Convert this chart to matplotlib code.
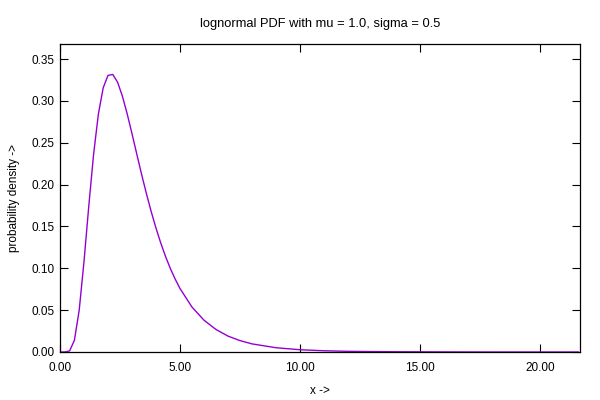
import matplotlib.pyplot as plt
from matplotlib.ticker import FormatStrFormatter, MultipleLocator

# values
x_vals = [0.0, 0.2, 0.4, 0.6, 0.8, 1.0, 1.2, 1.4, 1.6, 1.8, 2.0, 2.2, 2.4, 2.6,
          2.8, 3.0, 3.2, 3.4, 3.6, 3.8, 4.0, 4.2, 4.4, 4.6, 4.8, 5.0, 5.5, 6.0,
          6.5, 7.0, 7.5, 8.0, 9.0, 10.0, 11.0, 12.0, 13.0, 14.0, 16.0, 18.0,
          20.0, 21.6]
density = [0.0, 0.0, 0.0013, 0.0139, 0.0500, 0.1080, 0.1746, 0.2363, 0.2844,
           0.3156, 0.3305, 0.3316, 0.3223, 0.3057, 0.2845, 0.2609, 0.2364,
           0.2123, 0.1893, 0.1678, 0.1480, 0.1301, 0.1140, 0.0997, 0.0871,
           0.0759, 0.0537, 0.0380, 0.0269, 0.0190, 0.0136, 0.0097, 0.0051,
           0.0027, 0.0015, 0.0008, 0.0005, 0.0003, 0.0001, 0.0, 0.0, 0.0]

plt.rcParams['font.family'] = ['Liberation Sans', 'DejaVu Sans']
plt.rcParams['font.size'] = 8.5

fig = plt.figure(figsize=(6, 4), dpi=100)
ax = fig.add_axes([0.1, 0.12, 0.8667, 0.77])

ax.plot(x_vals, density, color='#9400d3', linewidth=1.0)

ax.set_xlim(0, 21.67)
ax.set_ylim(0, 0.368)
ax.xaxis.set_major_locator(MultipleLocator(5))
ax.yaxis.set_major_locator(MultipleLocator(0.05))
ax.xaxis.set_major_formatter(FormatStrFormatter('%.2f'))
ax.yaxis.set_major_formatter(FormatStrFormatter('%.2f'))
ax.tick_params(direction='in', length=6, width=0.8, top=True, right=True,
               labelsize=8.5)
ax.tick_params(axis='x', pad=7)
ax.tick_params(axis='y', pad=4)
for s in ax.spines.values():
    s.set_linewidth(0.9)

ax.set_title('lognormal PDF with mu = 1.0, sigma = 0.5', fontsize=9.3, pad=12)
ax.set_xlabel('x ->', fontsize=8.5, labelpad=8)
ax.set_ylabel('probability density ->', fontsize=8.5, labelpad=8)

fig.savefig('out.png', dpi=100)
